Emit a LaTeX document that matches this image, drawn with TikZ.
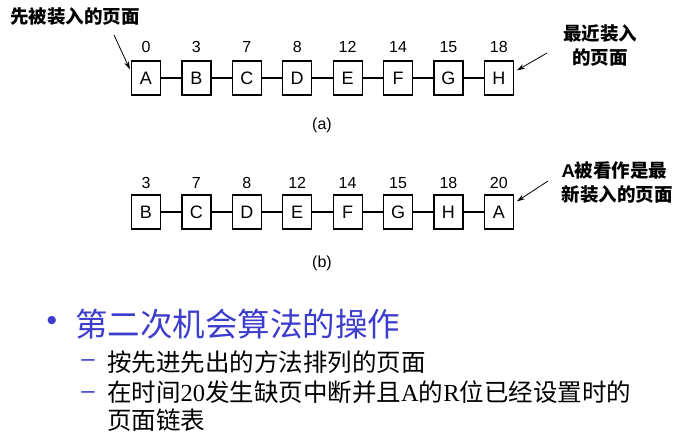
\documentclass[tikz,border=0pt]{standalone}
\usepackage{fontspec}
\setmainfont{Liberation Sans}
\newfontfamily\cjk{Noto Sans CJK SC}
\newfontfamily\serif{Liberation Serif}
\usetikzlibrary{arrows.meta,calc}
\definecolor{headblue}{RGB}{60,60,205}
\begin{document}
\begin{tikzpicture}[x=1pt,y=-1pt,
  pagebox/.style={draw,line width=1.2pt,minimum width=29pt,minimum height=34pt,inner sep=0pt,font=\fontsize{18}{18}\selectfont},
  numlbl/.style={inner sep=0pt,font=\fontsize{16}{16}\selectfont},
  link/.style={line width=1.2pt},
  pointer/.style={line width=0.8pt,-{Stealth[length=8pt,width=5pt]}},
  note/.style={inner sep=0pt,font=\cjk\bfseries\fontsize{18.5}{24}\selectfont},
  caption/.style={inner sep=0pt,font=\fontsize{16}{16}\selectfont},
  dashmark/.style={inner sep=0pt,text=headblue,font=\fontsize{24}{24}\selectfont}]
\useasboundingbox (0,0) rectangle (676,446);
% row (a)
\foreach \l/\n [count=\i] in {A/0,B/3,C/7,D/8,E/12,F/14,G/15,H/18}{
  \node[pagebox] (a\i) at ({146+50.4*(\i-1)},78) {\l};
  \node[numlbl] (na\i) at ({146+50.4*(\i-1)},47) {\n};
}
\foreach \i in {1,...,7}{
  \pgfmathtruncatemacro{\j}{\i+1}
  \draw[link] (a\i.east) -- (a\j.west);
}
\node[caption] (capa) at (322,125) {(a)};
% row (b)
\foreach \l/\n [count=\i] in {B/3,C/7,D/8,E/12,F/14,G/15,H/18,A/20}{
  \node[pagebox] (b\i) at ({146+50.4*(\i-1)},212) {\l};
  \node[numlbl] (nb\i) at ({146+50.4*(\i-1)},183) {\n};
}
\foreach \i in {1,...,7}{
  \pgfmathtruncatemacro{\j}{\i+1}
  \draw[link] (b\i.east) -- (b\j.west);
}
\node[caption] (capb) at (322,263) {(b)};
% notes and arrows
\node[note,anchor=west] (first) at (10,17) {先被装入的页面};
\coordinate (fstart) at (114,35);
\draw[pointer] (fstart) -- ($(a1.north west)+(-1,9)$);
\node[note,align=center] (latest) at (600,45) {最近装入\\的页面};
\coordinate (lstart) at (547,53);
\draw[pointer] (lstart) -- ($(a8.north east)+(3,10)$);
\node[note,align=left] (newest) at (617,183) {{\fontspec{Liberation Sans}\bfseries A}被看作是最\\新装入的页面};
\coordinate (nstart) at (548,181);
\draw[pointer] (nstart) -- ($(b8.north east)+(3,7)$);
% bullet text
\node[inner sep=0pt,text=headblue,font=\fontsize{30}{30}\selectfont] (bul) at (52,323) {•};
\node[inner sep=0pt,anchor=west,text=headblue,font=\cjk\fontsize{32.5}{32.5}\selectfont] (head) at (75,324) {第二次机会算法的操作};
\node[dashmark] (d1) at (88,363) {–};
\node[inner sep=0pt,anchor=west,font=\cjk\fontsize{24.5}{24.5}\selectfont] (s1) at (107,362) {按先进先出的方法排列的页面};
\node[dashmark] (d2) at (88,395) {–};
\node[inner sep=0pt,anchor=north west,align=left,font=\cjk\fontsize{24.5}{28}\selectfont] (s2) at (107,381) {在时间{\serif 20}发生缺页中断并且{\serif A}的{\serif R}位已经设置时的\\页面链表};
\end{tikzpicture}
\end{document}
